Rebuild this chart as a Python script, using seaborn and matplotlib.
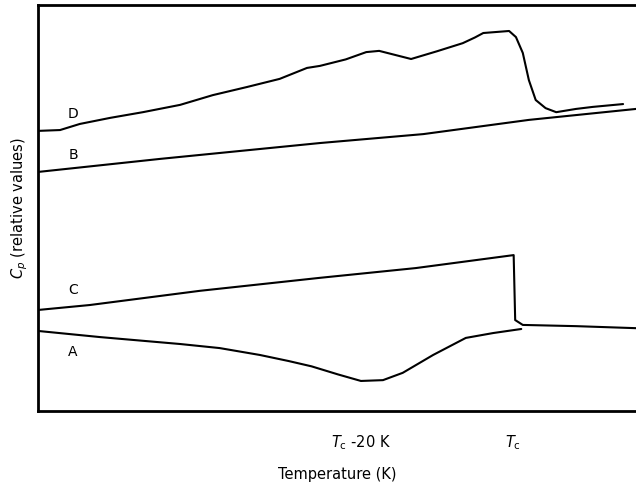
import numpy as np
import pandas as pd
import matplotlib
matplotlib.use("Agg")
import matplotlib.pyplot as plt
import seaborn as sns

# temperatures relative to Tc (K), heat capacity in relative units
t_d = [-62.4, -59.6, -57.0, -53.0, -48.7, -43.8, -39.5, -35.0, -30.7, -27.1, -25.4,
       -22.0, -19.3, -17.6, -15.5, -13.4, -10.0, -6.6, -5.0, -3.9, -0.5, 0.4, 1.3,
       2.1, 3.0, 4.3, 5.7, 8.3, 10.5, 14.5]
cp_d = [69.0, 69.2, 70.7, 72.2, 73.6, 75.4, 77.8, 79.8, 81.8, 84.5, 85.0,
        86.6, 88.4, 88.7, 87.7, 86.7, 88.6, 90.6, 92.0, 93.1, 93.6, 92.1, 88.2,
        81.5, 76.6, 74.6, 73.6, 74.4, 74.9, 75.6]

t_b = [-62.4, -46.4, -25.4, -11.8, 2.1, 16.2]
cp_b = [58.9, 62.1, 66.0, 68.2, 71.7, 74.4]

t_c = [-62.4, -55.7, -41.2, -25.4, -12.8, 0.1, 0.3, 1.3, 8.3, 16.2]
cp_c = [24.9, 26.1, 29.6, 32.8, 35.2, 38.4, 22.4, 21.2, 20.9, 20.4]

t_a = [-62.4, -54.3, -43.8, -38.6, -33.3, -29.5, -26.5, -23.0, -20.0, -17.1, -14.5,
       -10.5, -6.2, -2.6, 1.1]
cp_a = [19.7, 18.2, 16.5, 15.5, 13.8, 12.3, 11.0, 9.0, 7.4, 7.6, 9.4,
        13.8, 18.0, 19.2, 20.2]

curve_names = ["D", "B", "C", "A"]
label_y = [73.2, 63.1, 29.8, 14.5]
tick_pos = [-20, 0]
tick_labels = [r"$T_{\rm c}$ -20 K", r"$T_{\rm c}$"]

series = {"D": (t_d, cp_d), "B": (t_b, cp_b), "C": (t_c, cp_c), "A": (t_a, cp_a)}

sns.set_style("ticks")
plt.rcParams["font.family"] = ["DejaVu Sans"]
plt.rcParams["text.color"] = "black"
plt.rcParams["axes.labelcolor"] = "black"
plt.rcParams["xtick.color"] = "black"

fig = plt.figure(figsize=(6.36, 4.88), dpi=100)
ax = fig.add_axes([38 / 636, 77 / 488, 598 / 636, 406 / 488])

for name in curve_names:
    t, cp = series[name]
    df = pd.DataFrame({"T": t, "Cp": cp})
    sns.lineplot(data=df, x="T", y="Cp", sort=False, estimator=None,
                 color="black", lw=1.5, ax=ax)

for name, y in zip(curve_names, label_y):
    ax.text(-57.9, y, name, ha="center", va="center", fontsize=10, color="black")

ax.set_xlim(-62.5, 16.2)
ax.set_ylim(0, 100)
ax.set_xticks(tick_pos)
ax.set_xticklabels(tick_labels, fontsize=10.5)
ax.set_yticks([])
ax.tick_params(axis="x", length=0, pad=16)
ax.set_xlabel("Temperature (K)", fontsize=10.5, labelpad=11)
ax.set_ylabel(r"$C_p$ (relative values)", fontsize=10.5, labelpad=6)

for side in ["left", "bottom", "top"]:
    ax.spines[side].set_linewidth(2)
    ax.spines[side].set_color("black")
ax.spines["right"].set_visible(False)

fig.savefig("out.png", dpi=100)
plt.close()
